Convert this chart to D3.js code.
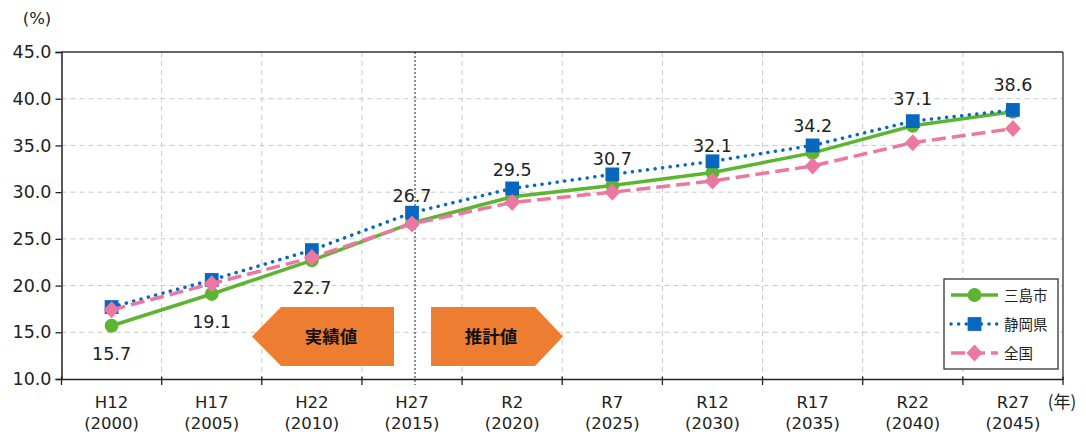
<!DOCTYPE html>
<html><head><meta charset="utf-8">
<script src="https://cdn.jsdelivr.net/npm/d3@7"></script>
<style>
html,body{margin:0;padding:0;background:#fff;}
svg{display:block;font-family:"DejaVu Sans","Noto Sans CJK JP",sans-serif;}
</style></head>
<body>
<svg id="chart" width="1086" height="437"></svg>
<script>
// ---- data ----
const eraLabels  = ["H12","H17","H22","H27","R2","R7","R12","R17","R22","R27"];
const yearLabels = ["(2000)","(2005)","(2010)","(2015)","(2020)","(2025)","(2030)","(2035)","(2040)","(2045)"];
const mishima  = [15.7,19.1,22.7,26.7,29.5,30.7,32.1,34.2,37.1,38.6];
const shizuoka = [17.7,20.6,23.8,27.8,30.4,31.9,33.3,35.0,37.6,38.8];
const national = [17.4,20.2,23.0,26.6,28.9,30.0,31.2,32.8,35.3,36.8];
const seriesNames = ["三島市","静岡県","全国"];
const yTicks = [10,15,20,25,30,35,40,45];
const labelBelowCount = 3; // first three value labels are placed under the points

// ---- layout ----
const svg = d3.select("#chart");
const L = 61.5, R = 1063, T = 52, B = 379;
const x = d3.scaleBand().domain(eraLabels).range([L, R]).padding(0);
const y = d3.scaleLinear().domain([10,45]).range([B, T]);
const cx = d => x(d) + x.bandwidth()/2;

const green = "#5CB531", blue = "#0867BF", pink = "#EC78A2", orange = "#ED7D31";
const latin = "'DejaVu Sans',sans-serif";
const cjk = "'Noto Sans CJK JP',sans-serif";

// grid
const g = svg.append("g");
g.selectAll(".hg").data(yTicks.filter(v => v>10 && v<45)).enter().append("line")
  .attr("x1", L).attr("x2", R).attr("y1", d=>y(d)).attr("y2", d=>y(d))
  .attr("stroke","#c9c9c9").attr("stroke-width",1).attr("stroke-dasharray","5,4");
g.selectAll(".vg").data(eraLabels.slice(1)).enter().append("line")
  .attr("x1", d=>x(d)).attr("x2", d=>x(d)).attr("y1", T).attr("y2", B)
  .attr("stroke","#c9c9c9").attr("stroke-width",1).attr("stroke-dasharray","5,4");

// frame top/right
svg.append("line").attr("x1",L).attr("x2",R).attr("y1",T).attr("y2",T).attr("stroke","#333").attr("stroke-width",1.3);
svg.append("line").attr("x1",R).attr("x2",R).attr("y1",T).attr("y2",B).attr("stroke","#333").attr("stroke-width",1.3);

// divider between actual and projection
const divX = cx("H27") + 3;
svg.append("line").attr("x1",divX).attr("x2",divX).attr("y1",T).attr("y2",B+6)
  .attr("stroke","#222").attr("stroke-width",1).attr("stroke-dasharray","2,2");

// y axis
const yAxis = svg.append("g").attr("transform",`translate(${L},0)`)
  .call(d3.axisLeft(y).tickValues(yTicks).tickFormat(d3.format(".1f")).tickSize(6).tickPadding(4));
yAxis.select(".domain").attr("stroke","#222").attr("stroke-width",1.5);
yAxis.selectAll(".tick line").attr("stroke","#222").attr("stroke-width",1.3);
yAxis.selectAll("text").attr("font-size",17.5).attr("fill","#222").attr("font-family",latin);

// x axis
const xAxis = svg.append("g").attr("transform",`translate(0,${B})`)
  .call(d3.axisBottom(x).tickSizeOuter(0).tickSize(0).tickFormat(""));
xAxis.select(".domain").attr("stroke","#222").attr("stroke-width",1.5);
xAxis.selectAll(".tick").remove();
const bounds = eraLabels.map(d => x(d)).concat([R]);
svg.selectAll(".xt").data(bounds).enter().append("line")
  .attr("x1",d=>d).attr("x2",d=>d).attr("y1",B-2.5).attr("y2",B+6)
  .attr("stroke","#222").attr("stroke-width",1.3);
const xg = svg.append("g").attr("font-family",latin).attr("font-size",16.5).attr("fill","#222");
xg.selectAll(".era").data(eraLabels).enter().append("text")
  .attr("x", d=>cx(d)).attr("y",408).attr("text-anchor","middle").text(d=>d);
xg.selectAll(".yr").data(yearLabels).enter().append("text")
  .attr("x", (d,i)=>cx(eraLabels[i])).attr("y",429).attr("text-anchor","middle").text(d=>d);

svg.append("text").attr("x",1062).attr("y",408).attr("text-anchor","middle")
  .attr("font-family",cjk).attr("font-size",17).attr("fill","#222").text("(年)");
svg.append("text").attr("x",37).attr("y",24).attr("text-anchor","middle")
  .attr("font-family",latin).attr("font-size",16.5).attr("fill","#222").text("(%)");

// arrows
const arrowY1 = 307, arrowY2 = 366, arrowMid = (arrowY1+arrowY2)/2;
svg.append("path").attr("fill",orange)
  .attr("d",`M${divX-21},${arrowY1} L${divX-21},${arrowY2} L${divX-134},${arrowY2} L${divX-163},${arrowMid} L${divX-134},${arrowY1} Z`);
svg.append("text").attr("x",divX-84).attr("y",arrowMid+6.5).attr("text-anchor","middle")
  .attr("font-family",cjk).attr("font-size",17.5).attr("font-weight","bold").attr("fill","#111").text("実績値");
svg.append("path").attr("fill",orange)
  .attr("d",`M${divX+16},${arrowY1} L${divX+120},${arrowY1} L${divX+148},${arrowMid} L${divX+120},${arrowY2} L${divX+16},${arrowY2} Z`);
svg.append("text").attr("x",divX+76).attr("y",arrowMid+6.5).attr("text-anchor","middle")
  .attr("font-family",cjk).attr("font-size",17.5).attr("font-weight","bold").attr("fill","#111").text("推計値");

// series
const line = d3.line().x((d,i)=>cx(eraLabels[i])).y(d=>y(d));
function drawSeries(vals, color, dash, marker) {
  const gg = svg.append("g");
  gg.append("path").datum(vals).attr("d", line).attr("fill","none")
    .attr("stroke",color).attr("stroke-width",3.5)
    .attr("stroke-dasharray",dash).attr("stroke-linecap", dash==="0.1,7.5" ? "round" : "butt");
  gg.selectAll(".m").data(vals).enter().append("path")
    .attr("transform",(d,i)=>`translate(${cx(eraLabels[i])},${y(d)})`)
    .attr("d", marker).attr("fill",color);
}
const circleM = d3.symbol().type(d3.symbolCircle).size(150)();
const squareM = d3.symbol().type(d3.symbolSquare).size(190)();
const diamondM = "M0,-8.5L8,0L0,8.5L-8,0Z";
drawSeries(mishima, green, null, circleM);
drawSeries(shizuoka, blue, "0.1,7.5", squareM);
drawSeries(national, pink, "14,6", diamondM);

// value labels (三島市)
svg.append("g").selectAll("text").data(mishima).enter().append("text")
  .attr("x",(d,i)=>cx(eraLabels[i]))
  .attr("y",(d,i)=> i < labelBelowCount ? y(d)+34 : y(d)-21)
  .attr("text-anchor","middle").attr("font-family",latin).attr("font-size",17.5).attr("fill","#222")
  .text(d=>d.toFixed(1));

// legend
const lg = svg.append("g");
lg.append("rect").attr("x",944).attr("y",279).attr("width",114).attr("height",90)
  .attr("fill","#fff").attr("stroke","#333").attr("stroke-width",1.3);
const legItems = [
  {name:seriesNames[0], color:green, dash:null, m:circleM},
  {name:seriesNames[1], color:blue, dash:"0.1,7.5", m:squareM},
  {name:seriesNames[2], color:pink, dash:"14,6", m:diamondM}
];
legItems.forEach((it,i)=>{
  const ly = 295 + i*29;
  lg.append("line").attr("x1",951).attr("x2",998).attr("y1",ly).attr("y2",ly)
    .attr("stroke",it.color).attr("stroke-width",3.5).attr("stroke-dasharray",it.dash)
    .attr("stroke-linecap", it.dash==="0.1,7.5" ? "round":"butt");
  lg.append("path").attr("transform",`translate(974.5,${ly})`).attr("d",it.m).attr("fill",it.color);
  lg.append("text").attr("x",1004).attr("y",ly+5.5).attr("font-family",cjk).attr("font-size",14.5).attr("fill","#222").text(it.name);
});
</script>
</body></html>
